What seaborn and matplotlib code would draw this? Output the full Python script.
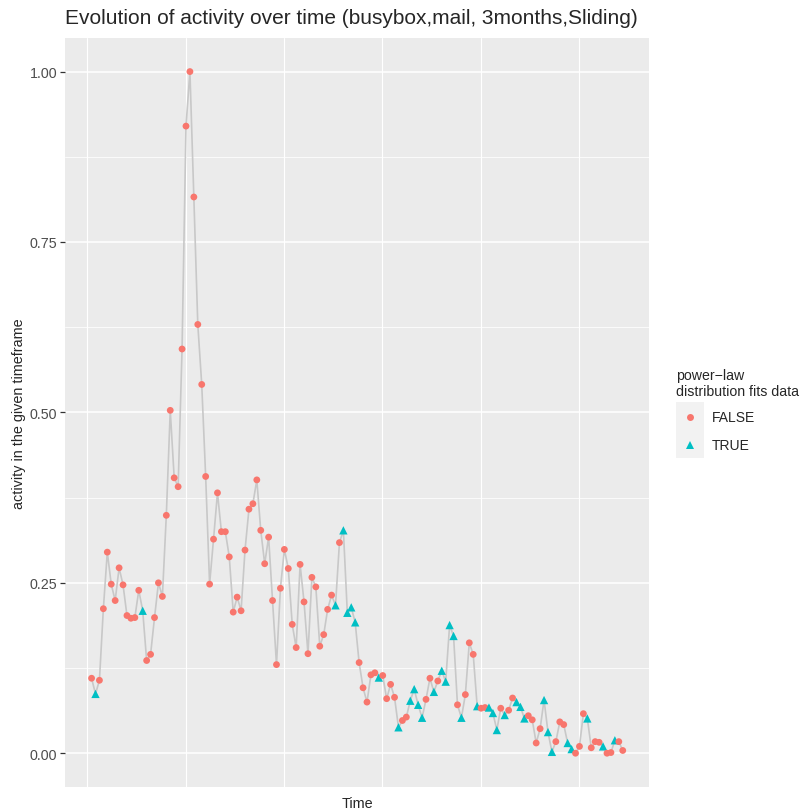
import numpy as np
import pandas as pd
import matplotlib
matplotlib.use("Agg")
import matplotlib.pyplot as plt
from matplotlib.lines import Line2D
from matplotlib.patches import Rectangle
import seaborn as sns

# valores (um ponto por janela de tempo)
activity = [
    0.110, 0.087, 0.107, 0.212, 0.295, 0.248, 0.224, 0.272, 0.247, 0.202,
    0.198, 0.199, 0.239, 0.209, 0.136, 0.145, 0.199, 0.250, 0.230, 0.349,
    0.503, 0.404, 0.391, 0.593, 0.920, 1.000, 0.816, 0.629, 0.541, 0.406,
    0.248, 0.314, 0.382, 0.325, 0.325, 0.288, 0.207, 0.229, 0.209, 0.298,
    0.358, 0.366, 0.401, 0.327, 0.278, 0.317, 0.224, 0.130, 0.242, 0.299,
    0.271, 0.189, 0.155, 0.277, 0.222, 0.146, 0.258, 0.244, 0.157, 0.174,
    0.211, 0.232, 0.217, 0.309, 0.327, 0.206, 0.214, 0.192, 0.133, 0.096,
    0.075, 0.115, 0.118, 0.111, 0.114, 0.080, 0.101, 0.082, 0.038, 0.048,
    0.053, 0.077, 0.094, 0.071, 0.052, 0.079, 0.110, 0.090, 0.106, 0.121,
    0.105, 0.188, 0.172, 0.071, 0.052, 0.086, 0.162, 0.145, 0.069, 0.066,
    0.067, 0.067, 0.059, 0.034, 0.066, 0.056, 0.063, 0.081, 0.075, 0.068,
    0.051, 0.055, 0.049, 0.015, 0.036, 0.078, 0.031, 0.002, 0.017, 0.046,
    0.042, 0.015, 0.006, 0.000, 0.010, 0.058, 0.051, 0.008, 0.017, 0.016,
    0.010, 0.000, 0.001, 0.019, 0.017, 0.004,
]
fits = (
    "FTFFFFFFFFFFFTFFFFFFFFFFFFFFFFFFFFFFFFFFFFFFFFFFFFFFFFFFFFFFFF"
    "TFTTTTFFFFFTFFFFTFFTTTTFFTFTTTTFTFFFTFFTTTFTFFTTTFFFFTTTFFFTTFFFTFFFTFFTFF"
)
fits = ["TRUE" if c == "T" else "FALSE" for c in fits]
time_index = np.arange(len(activity))

# linhas verticais da grade (sem rótulos no eixo do tempo)
time_breaks = [-1.1, 23.9, 48.9, 73.9, 98.9, 123.9]
y_major = [0.0, 0.25, 0.5, 0.75, 1.0]
y_minor = [0.125, 0.375, 0.625, 0.875]

df = pd.DataFrame({"Time": time_index, "activity": activity, "fits": fits})

palette = {"FALSE": "#F8766D", "TRUE": "#00BFC4"}
markers = {"FALSE": "o", "TRUE": "^"}
sizes = {"FALSE": 24, "TRUE": 36}

sns.set_style("darkgrid", {"axes.facecolor": "#EBEBEB", "grid.color": "white"})
plt.rcParams["font.family"] = ["Liberation Sans", "DejaVu Sans"]

W, H = 803, 812
fig = plt.figure(figsize=(W / 100, H / 100), dpi=100)
ax = fig.add_axes([65 / W, 1 - 788.3 / H, 584.3 / W, 749.8 / H])

sns.lineplot(data=df, x="Time", y="activity", color="#C8C8C8", linewidth=1.2,
             ax=ax, zorder=2)
sns.scatterplot(data=df, x="Time", y="activity", hue="fits", style="fits",
                size="fits", sizes=sizes, palette=palette, markers=markers,
                linewidth=0, ax=ax, zorder=3, legend=False)

n = len(activity) - 1
ax.set_xlim(-0.05 * n, n * 1.05)
ax.set_ylim(-0.05, 1.05)

ax.set_xticks(time_breaks)
ax.set_xticklabels([])
ax.tick_params(axis="x", length=0)
ax.set_yticks(y_major)
ax.set_yticklabels(["0.00", "0.25", "0.50", "0.75", "1.00"])
ax.set_yticks(y_minor, minor=True)
ax.tick_params(axis="y", which="major", length=3.5, width=0.9, color="#333333",
               labelsize=10.3, labelcolor="#4D4D4D", pad=2, left=True)
ax.tick_params(axis="y", which="minor", length=0)
ax.grid(False)
ax.grid(True, axis="y", which="major", color="white", linewidth=1.1)
ax.grid(True, axis="y", which="minor", color="white", linewidth=0.55)
ax.grid(True, axis="x", which="major", color="white", linewidth=0.8)
for s in ax.spines.values():
    s.set_visible(False)

ax.set_xlabel("Time", fontsize=10.4, labelpad=3)
ax.set_ylabel("activity in the given timeframe", fontsize=10.4, labelpad=3)

fig.text(65 / W, 1 - 18 / H, "Evolution of activity over time (busybox,mail, 3months,Sliding)",
         fontsize=15, ha="left", va="center")

# legenda no estilo ggplot, montada à mão
fig.text(676 / W, 1 - 384 / H, "power\u2212law\ndistribution fits data",
         fontsize=10.2, ha="left", va="center", linespacing=1.15)
fig.patches.append(Rectangle((676 / W, 1 - 459 / H), 28.5 / W, 56.5 / H,
                             transform=fig.transFigure, facecolor="#F2F2F2",
                             edgecolor="none", zorder=0))
legend_rows = [("FALSE", "o", 5.0, 418), ("TRUE", "^", 6.0, 446)]
for label, mk, ms, ypix in legend_rows:
    fig.add_artist(Line2D([690 / W], [1 - ypix / H], transform=fig.transFigure,
                          marker=mk, markersize=ms, linestyle="none",
                          color=palette[label], markeredgewidth=0))
    fig.text(711.5 / W, 1 - ypix / H, label, fontsize=10, ha="left", va="center")

fig.savefig("out.png", dpi=100)
